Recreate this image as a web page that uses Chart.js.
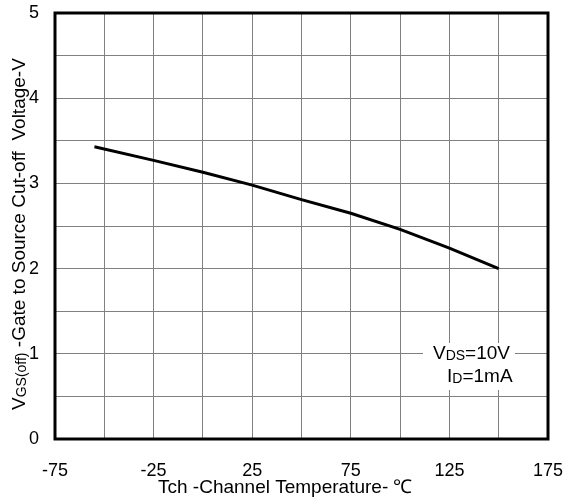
<!DOCTYPE html>
<html>
<head>
<meta charset="utf-8">
<script src="https://cdn.jsdelivr.net/npm/chart.js@4/dist/chart.umd.min.js"></script>
<style>
  html, body { margin: 0; padding: 0; background: #fff; }
  canvas { display: block; }
</style>
</head>
<body>
<canvas id="c" width="566" height="500"></canvas>
<script>
// Data
const temperatures = [-55, -25, 0, 25, 50, 75, 100, 125, 150];   // Tch (°C)
const vgsOff = [3.43, 3.27, 3.13, 2.98, 2.81, 2.65, 2.46, 2.24, 2.00]; // VGS(off) (V)
const xTickLabels = [-75, -25, 25, 75, 125, 175];
const yTickLabels = [0, 1, 2, 3, 4, 5];
const conditionMain = ['V', 'DS', '=10V'];
const conditionSub = ['I', 'D', '=1mA'];

const FONT = '"Liberation Sans", Arial, sans-serif';

function drawRich(ctx, parts, x, y, big, small) {
  let cx = x;
  parts.forEach((p, i) => {
    const sub = (i % 2 === 1);
    ctx.font = (sub ? small : big) + 'px ' + FONT;
    ctx.fillText(p, cx, y + (sub ? 1 : 0));
    cx += ctx.measureText(p).width;
  });
  return cx - x;
}

function zeroPad(s) {
  s.paddingLeft = 0; s.paddingRight = 0; s.paddingTop = 0; s.paddingBottom = 0;
}

const decorPlugin = {
  id: 'decor',
  afterDraw(chart) {
    const ctx = chart.ctx;
    const a = chart.chartArea;
    ctx.save();
    // Condition box (white background covering gridlines)
    ctx.fillStyle = '#fff';
    ctx.fillRect(423, 343, 92, 47);
    ctx.fillStyle = '#000';
    ctx.textBaseline = 'alphabetic';
    ctx.textAlign = 'left';
    drawRich(ctx, conditionMain, 433, 359, 19, 14);
    drawRich(ctx, conditionSub, 447, 382, 19, 14);

    // Frame
    ctx.strokeStyle = '#000';
    ctx.lineWidth = 3;
    ctx.strokeRect(a.left, a.top, a.right - a.left, a.bottom - a.top);

    // X axis title
    ctx.font = '19px ' + FONT;
    ctx.fillStyle = '#000';
    ctx.fillText('Tch -Channel Temperature- ℃', 158, 493);

    // Y axis title (rotated)
    ctx.translate(25, 410);
    ctx.rotate(-Math.PI / 2);
    drawRich(ctx, ['V', 'GS(off)', ' -Gate to Source Cut-off  Voltage-V'], 0, 0, 19, 14);
    ctx.restore();
  }
};

new Chart(document.getElementById('c'), {
  type: 'line',
  data: {
    datasets: [{
      data: temperatures.map((t, i) => ({ x: t, y: vgsOff[i] })),
      borderColor: '#000',
      borderWidth: 3,
      pointRadius: 0,
      tension: 0,
      fill: false
    }]
  },
  options: {
    responsive: false,
    animation: false,
    devicePixelRatio: 1,
    layout: { autoPadding: false, padding: { left: 0, right: 18, top: 13, bottom: 0 } },
    plugins: { legend: { display: false }, tooltip: { enabled: false } },
    scales: {
      x: {
        type: 'linear',
        min: -75, max: 175,
        afterFit(s) { s.height = 61; zeroPad(s); },
        border: { display: false },
        grid: { color: '#808080', lineWidth: 1, drawTicks: false },
        ticks: {
          stepSize: 25,
          autoSkip: false,
          maxRotation: 0,
          padding: 21,
          color: '#000',
          font: { family: FONT, size: 18 },
          callback: v => xTickLabels.includes(v) ? String(v) : ''
        }
      },
      y: {
        type: 'linear',
        min: 0, max: 5,
        afterFit(s) { s.width = 55; zeroPad(s); },
        border: { display: false },
        grid: { color: '#808080', lineWidth: 1, drawTicks: false },
        ticks: {
          stepSize: 0.5,
          autoSkip: false,
          padding: 16,
          color: '#000',
          font: { family: FONT, size: 18 },
          callback: v => yTickLabels.includes(v) ? String(v) : ''
        }
      }
    }
  },
  plugins: [decorPlugin]
});
</script>
</body>
</html>
